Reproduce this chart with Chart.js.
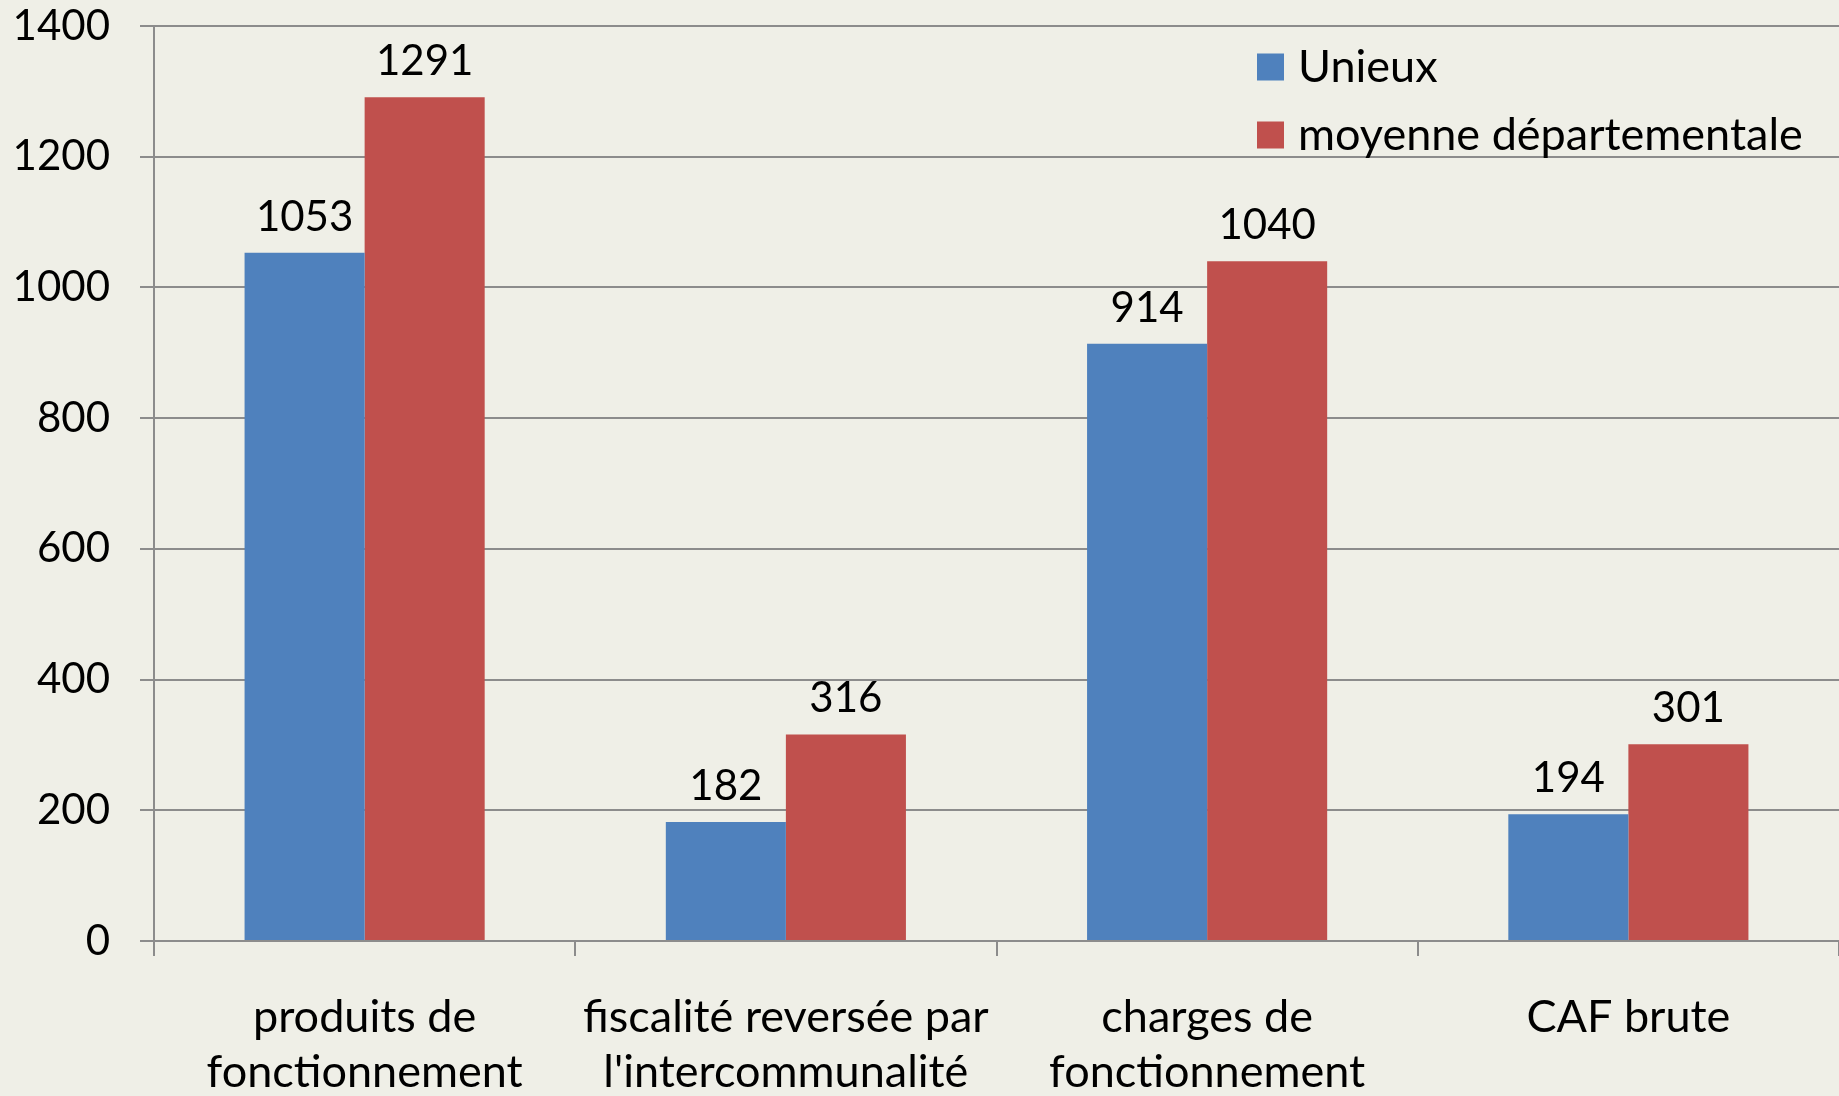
<!DOCTYPE html>
<html>
<head>
<meta charset="utf-8">
<script src="https://cdn.jsdelivr.net/npm/chart.js@4"></script>
<style>
  html, body { margin: 0; padding: 0; background: #efefe7; }
  #wrap { width: 1839px; height: 1096px; position: relative; }
</style>
</head>
<body>
<div id="wrap"><canvas id="chart"></canvas></div>
<script>
// data
const categories = [
  ['produits de', 'fonctionnement'],
  ['fiscalité reversée par', "l'intercommunalité"],
  ['charges de', 'fonctionnement'],
  ['CAF brute']
];
const seriesNames = ['Unieux', 'moyenne départementale'];
const unieux = [1053, 182, 914, 194];
const moyenne = [1291, 316, 1040, 301];
const yTicks = [0, 200, 400, 600, 800, 1000, 1200, 1400];

const FONT = 'Lato, "Open Sans", sans-serif';
const GRID = '#8c8c8c';

// value labels above each bar
const valueLabels = {
  id: 'valueLabels',
  afterDatasetsDraw(chart) {
    const ctx = chart.ctx;
    ctx.save();
    ctx.font = '42px ' + FONT;
    ctx.fillStyle = '#000';
    ctx.textAlign = 'center';
    ctx.textBaseline = 'alphabetic';
    chart.data.datasets.forEach((ds, i) => {
      chart.getDatasetMeta(i).data.forEach((bar, j) => {
        ctx.fillText(String(ds.data[j]), bar.x, bar.y - 22);
      });
    });
    ctx.restore();
  }
};

// legend in the upper right, inside the plot
const insideLegend = {
  id: 'insideLegend',
  afterDraw(chart) {
    const ctx = chart.ctx;
    const x0 = 1257, y0 = 67, rowGap = 68, box = 27;
    ctx.save();
    ctx.font = '45px ' + FONT;
    ctx.textBaseline = 'middle';
    ctx.textAlign = 'left';
    chart.data.datasets.forEach((ds, i) => {
      const y = y0 + i * rowGap;
      ctx.fillStyle = ds.backgroundColor;
      ctx.fillRect(x0, y - box / 2, box, box);
      ctx.fillStyle = '#000';
      ctx.fillText(ds.label, x0 + 41, y);
    });
    ctx.restore();
  }
};

new Chart(document.getElementById('chart'), {
  type: 'bar',
  data: {
    labels: categories,
    datasets: [
      { label: seriesNames[0], data: unieux, backgroundColor: '#4f81bd' },
      { label: seriesNames[1], data: moyenne, backgroundColor: '#c0504d' }
    ]
  },
  options: {
    responsive: true,
    maintainAspectRatio: false,
    animation: false,
    layout: { padding: 0 },
    datasets: {
      bar: { categoryPercentage: 0.57, barPercentage: 1.0 }
    },
    plugins: {
      legend: { display: false },
      tooltip: { enabled: false }
    },
    scales: {
      x: {
        grid: {
          offset: true,
          drawOnChartArea: false,
          drawTicks: true,
          tickLength: 15,
          color: GRID,
          lineWidth: 2
        },
        border: { color: GRID, width: 2 },
        ticks: {
          color: '#000',
          font: { family: FONT, size: 45, lineHeight: 1.22 },
          padding: 34,
          maxRotation: 0,
          autoSkip: false
        },
        afterFit(scale) { scale.height = 1096 - 941; }
      },
      y: {
        min: 0,
        max: 1400,
        afterBuildTicks(scale) { scale.ticks = yTicks.map(v => ({ value: v })); },
        grid: { color: GRID, lineWidth: 2, tickLength: 14 },
        border: { color: GRID, width: 2 },
        ticks: {
          color: '#000',
          font: { family: FONT, size: 42 },
          padding: 30,
          callback: v => String(v)
        },
        afterFit(scale) {
          scale.width = 154;
          scale.paddingTop = 26;
        }
      }
    }
  },
  plugins: [valueLabels, insideLegend]
});
</script>
</body>
</html>
